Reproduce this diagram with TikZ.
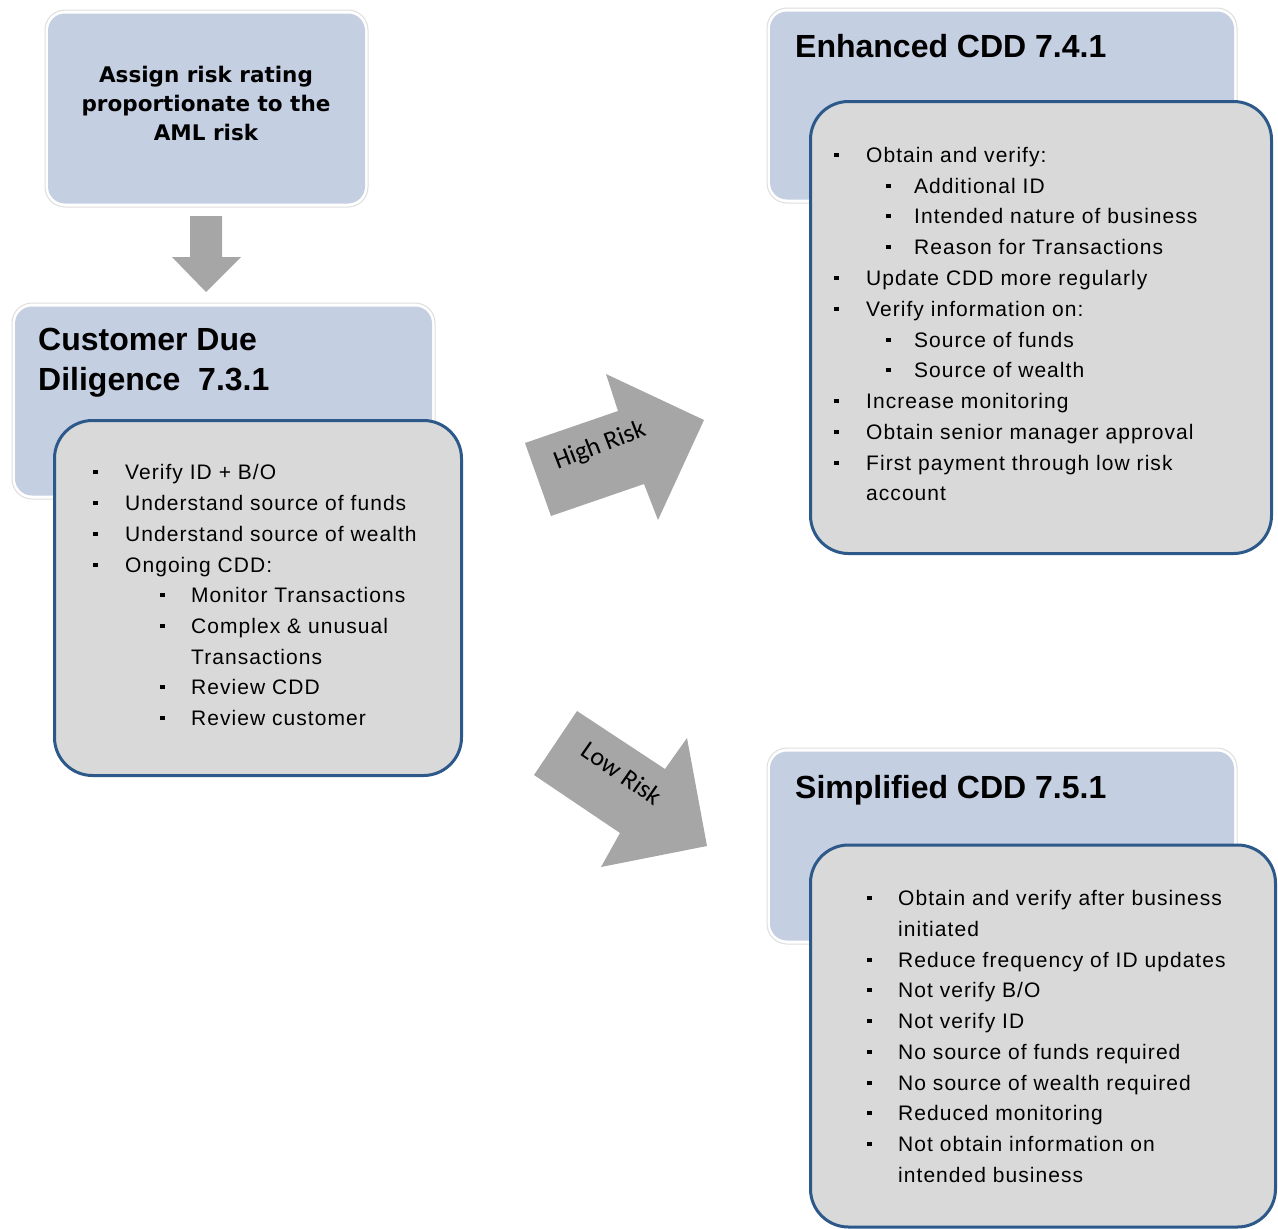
\documentclass[tikz,border=0pt]{standalone}
\usepackage{fontspec}
\setmainfont{Liberation Sans}
\newfontfamily\bodyfont[LetterSpace=5]{Liberation Sans}
\newfontfamily\assignfont{DejaVu Sans}
\newfontfamily\calfont{Carlito}
\definecolor{hdr}{RGB}{197,207,226}
\definecolor{cont}{RGB}{217,217,217}
\definecolor{bord}{RGB}{44,88,138}
\definecolor{arrowgray}{RGB}{166,166,166}
\definecolor{edge}{RGB}{222,222,222}
\newcommand\bl[2][32]{\llap{\rule[5pt]{4.5pt}{4.5pt}\hspace{\dimexpr#1pt-4.5pt\relax}}#2}
\tikzset{
  hdrouter/.style={draw=edge, fill=white, line width=1pt, rounded corners=20pt, anchor=north west, inner sep=0pt, outer sep=0pt},
  hdrinner/.style={fill=hdr, rounded corners=17pt, anchor=north west, inner sep=0pt, outer sep=0pt},
  contbox/.style={draw=bord, fill=cont, line width=3pt, rounded corners=38pt, anchor=north west, inner sep=0pt, outer sep=0pt},
  txt/.style={anchor=base west, inner sep=0pt, font=\bodyfont\fontsize{21}{25}\selectfont},
  ttl/.style={anchor=base west, inner sep=0pt, font=\fontsize{32}{40}\selectfont\bfseries},
  asg/.style={anchor=base, inner sep=0pt, font=\assignfont\fontsize{21.5}{29}\selectfont\bfseries},
  blockarrow/.style={fill=arrowgray},
  risk/.style={inner sep=0pt, font=\calfont\fontsize{26}{30}\selectfont}
}
\begin{document}
\begin{tikzpicture}[x=1pt,y=-1pt]
\useasboundingbox (0,0) rectangle (1278,1229);
\clip (0,0) rectangle (1278,1229);

% ---------- Assign box ----------
\node[hdrouter, minimum width=323pt, minimum height=197pt] (assignO) at (45,10) {};
\node[hdrinner, minimum width=317pt, minimum height=190pt] (assign) at (48,13.5) {};
\node[asg] (a1) at (206,82) {Assign risk rating};
\node[asg] (a2) at (206,111) {proportionate to the};
\node[asg] (a3) at (206,140) {AML risk};

% down arrow
\fill[blockarrow] (190,216) -- (222,216) -- (222,257) -- (241,257) -- (206,292) -- (172,257) -- (190,257) -- cycle;

% ---------- CDD ----------
\node[hdrouter, minimum width=423pt, minimum height=196pt] (cddO) at (12,303) {};
\node[hdrinner, minimum width=417pt, minimum height=189pt] (cddH) at (15,306.5) {};
\node[ttl] (t1a) at (38,350) {Customer Due};
\node[ttl] (t1b) at (38,390) {Diligence~~7.3.1};
\node[contbox, minimum width=407pt, minimum height=355pt] (cddC) at (54.5,420.5) {};
\node[txt] (c1) at (125,479) {\bl{Verify ID + B/O}};
\node[txt] (c2) at (125,510) {\bl{Understand source of funds}};
\node[txt] (c3) at (125,541) {\bl{Understand source of wealth}};
\node[txt] (c4) at (125,572) {\bl{Ongoing CDD:}};
\node[txt] (c5) at (191,602) {\bl[31]{Monitor Transactions}};
\node[txt] (c6) at (191,633) {\bl[31]{Complex \& unusual}};
\node[txt] (c7) at (191,664) {Transactions};
\node[txt] (c8) at (191,694) {\bl[31]{Review CDD}};
\node[txt] (c9) at (191,725) {\bl[31]{Review customer}};

% ---------- Risk arrows ----------
\fill[blockarrow] (525,443) -- (618,411) -- (606,374) -- (704,420) -- (658,520) -- (644,484) -- (551,516) -- cycle;
\node[risk, rotate=21] (high) at (600,446) {High Risk};
\fill[blockarrow] (577,711) -- (665,769) -- (687,738) -- (707,846) -- (601,867) -- (620,833) -- (534,775) -- cycle;
\node[risk, rotate=-35] (low) at (622,773) {Low Risk};

% ---------- Enhanced ----------
\node[hdrouter, minimum width=470pt, minimum height=195pt] (enhO) at (767,8) {};
\node[hdrinner, minimum width=464pt, minimum height=188pt] (enhH) at (770,11.5) {};
\node[ttl] (t2) at (795,57) {Enhanced CDD 7.4.1};
\node[contbox, minimum width=461pt, minimum height=452pt] (enhC) at (810.5,101.5) {};
\node[txt] (e1) at (866,162) {\bl{Obtain and verify:}};
\node[txt] (e2) at (914,193) {\bl[28]{Additional ID}};
\node[txt] (e3) at (914,223) {\bl[28]{Intended nature of business}};
\node[txt] (e4) at (914,254) {\bl[28]{Reason for Transactions}};
\node[txt] (e5) at (866,285) {\bl{Update CDD more regularly}};
\node[txt] (e6) at (866,316) {\bl{Verify information on:}};
\node[txt] (e7) at (914,347) {\bl[28]{Source of funds}};
\node[txt] (e8) at (914,377) {\bl[28]{Source of wealth}};
\node[txt] (e9) at (866,408) {\bl{Increase monitoring}};
\node[txt] (e10) at (866,439) {\bl{Obtain senior manager approval}};
\node[txt] (e11) at (866,470) {\bl{First payment through low risk}};
\node[txt] (e12) at (866,500) {account};

% ---------- Simplified ----------
\node[hdrouter, minimum width=470pt, minimum height=196pt] (simO) at (767,748) {};
\node[hdrinner, minimum width=464pt, minimum height=189pt] (simH) at (770,751.5) {};
\node[ttl] (t3) at (795,798) {Simplified CDD 7.5.1};
\node[contbox, minimum width=465pt, minimum height=382pt] (simC) at (810.5,845) {};
\node[txt] (s1) at (898,905) {\bl[31]{Obtain and verify after business}};
\node[txt] (s2) at (898,936) {initiated};
\node[txt] (s3) at (898,967) {\bl[31]{Reduce frequency of ID updates}};
\node[txt] (s4) at (898,997) {\bl[31]{Not verify B/O}};
\node[txt] (s5) at (898,1028) {\bl[31]{Not verify ID}};
\node[txt] (s6) at (898,1059) {\bl[31]{No source of funds required}};
\node[txt] (s7) at (898,1090) {\bl[31]{No source of wealth required}};
\node[txt] (s8) at (898,1120) {\bl[31]{Reduced monitoring}};
\node[txt] (s9) at (898,1151) {\bl[31]{Not obtain information on}};
\node[txt] (s10) at (898,1182) {intended business};
\end{tikzpicture}
\end{document}
